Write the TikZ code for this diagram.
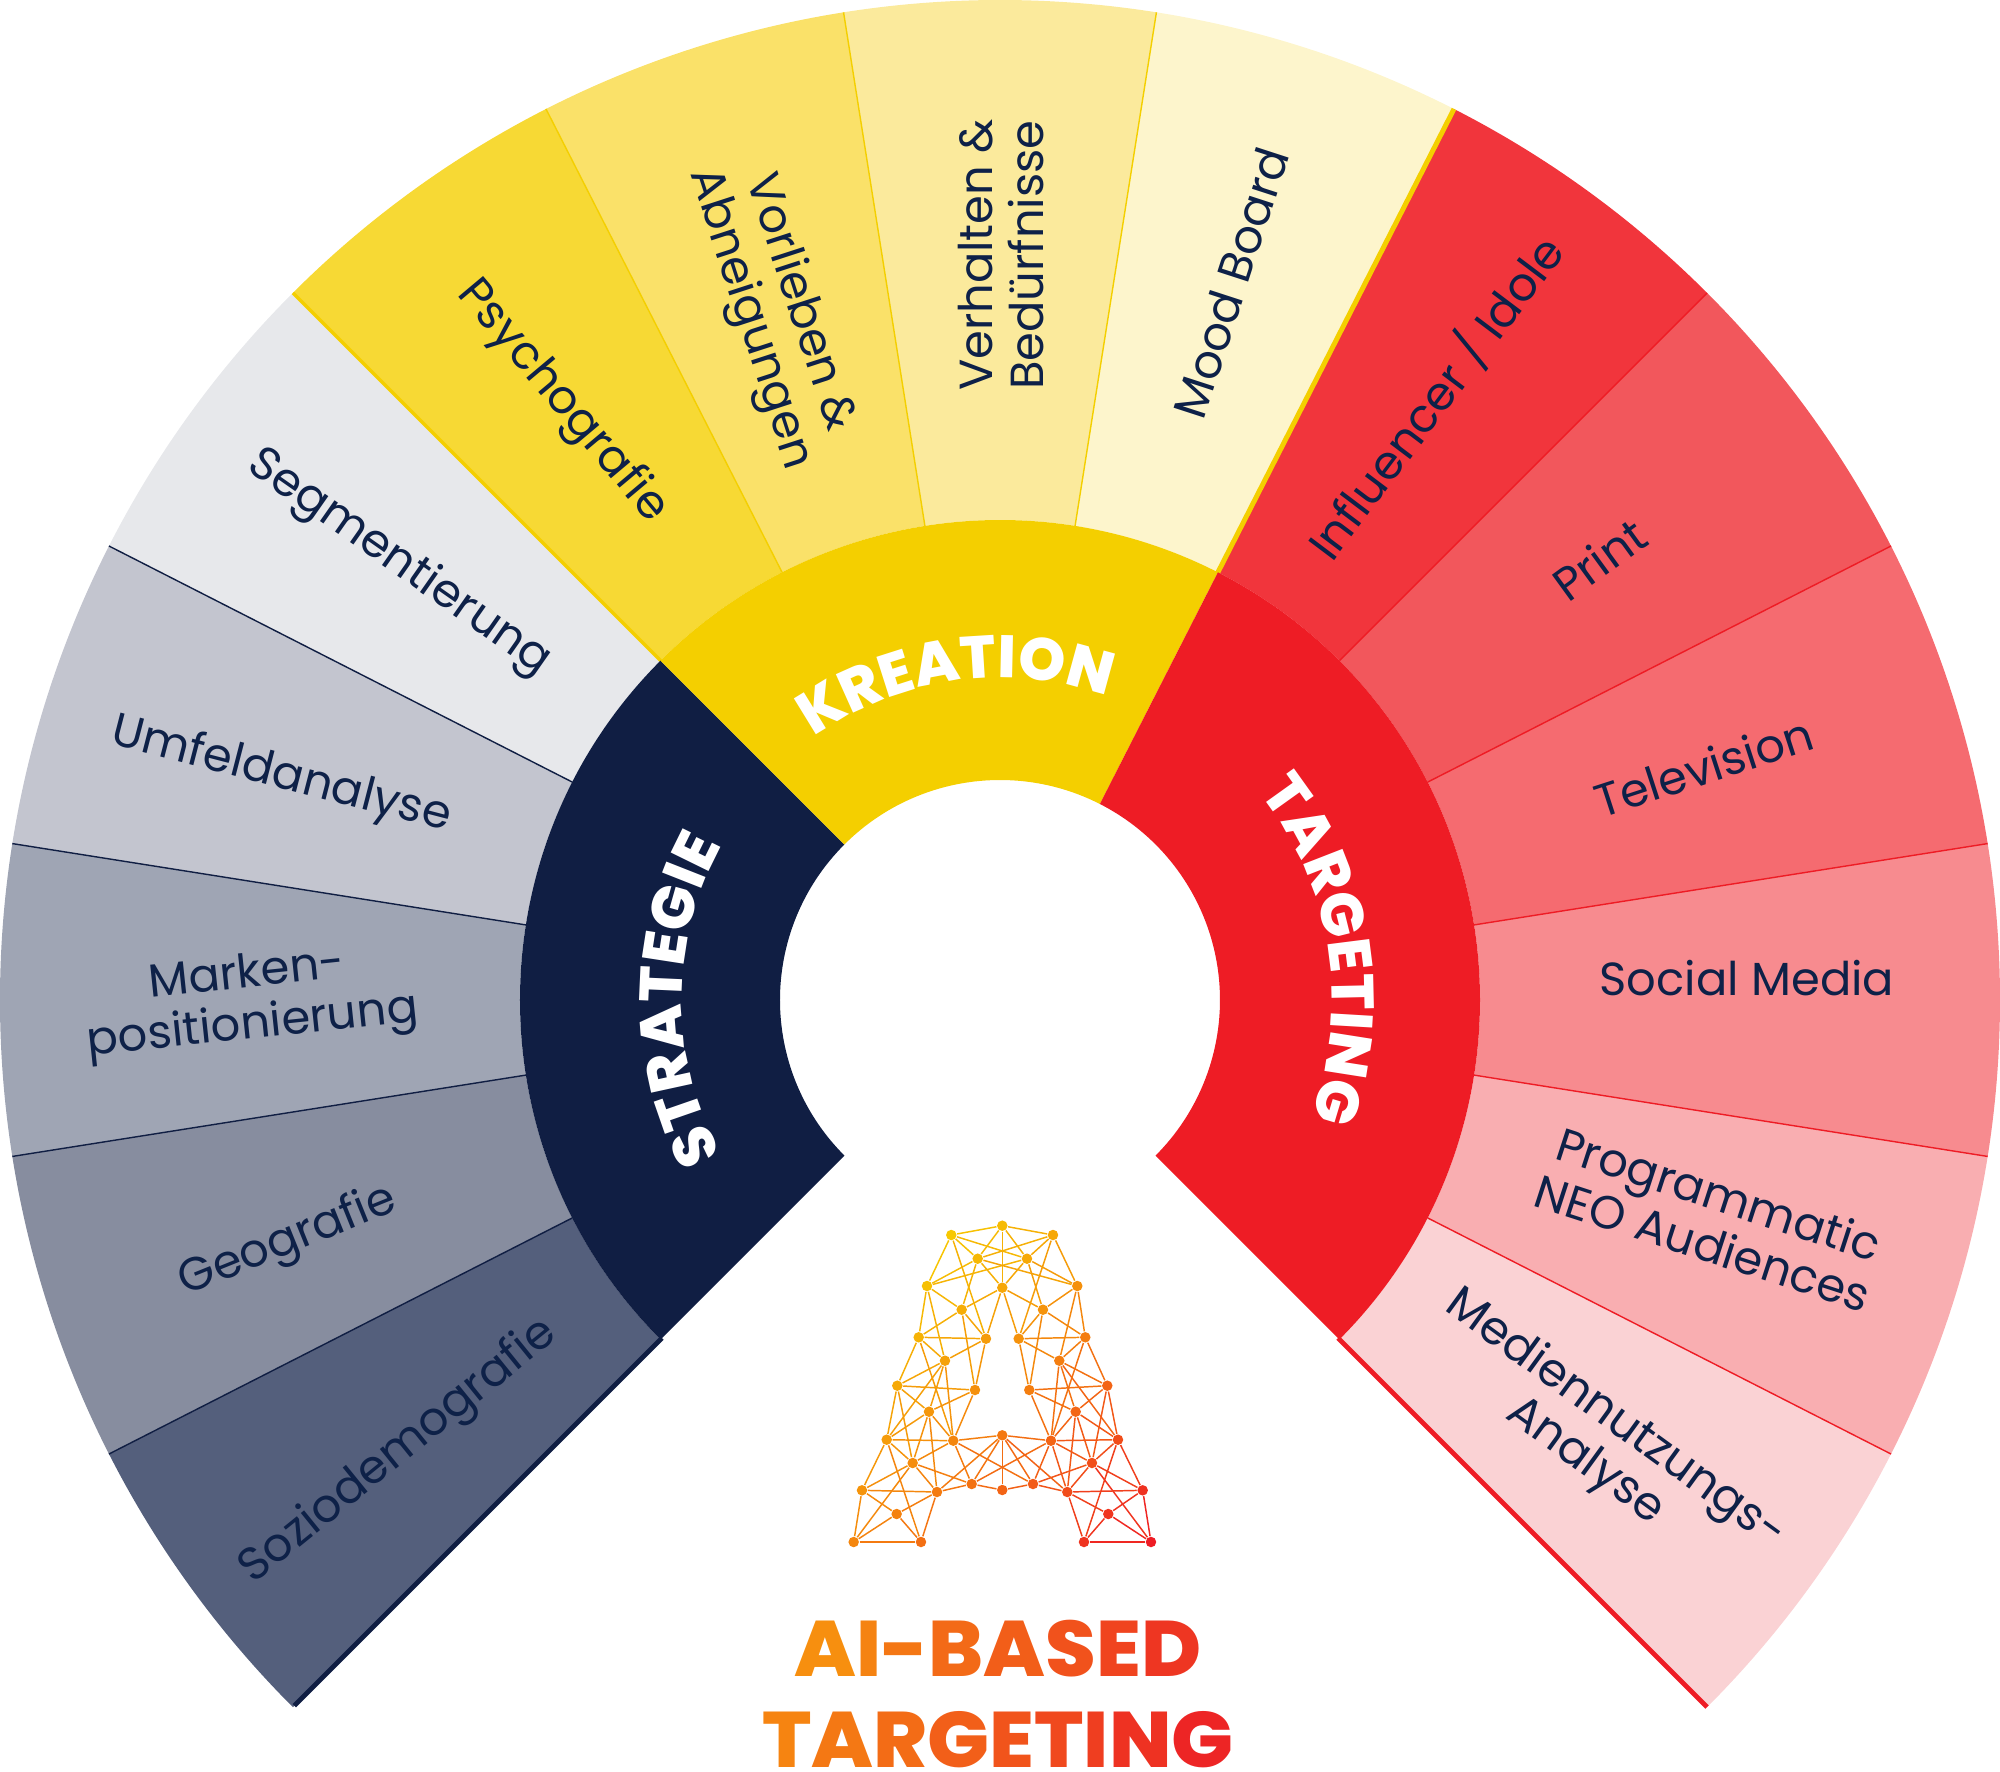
\documentclass[tikz,border=0pt]{standalone}
\usepackage{fontspec}
\usetikzlibrary{decorations.text}
\setmainfont{Poppins}
\newfontfamily\heavyfont{Poppins ExtraBold}
\newfontfamily\headfont{Poppins ExtraBold}[FakeStretch=1.04]

\definecolor{navy}{HTML}{101E43}
\definecolor{inky}{HTML}{0E2148}
\definecolor{gold}{HTML}{F4CF00}
\definecolor{flame}{HTML}{EE1C25}
\definecolor{navyA}{HTML}{545F7C}
\definecolor{navyB}{HTML}{878D9F}
\definecolor{navyC}{HTML}{9FA5B4}
\definecolor{navyD}{HTML}{C3C5CF}
\definecolor{navyE}{HTML}{E7E8EB}
\definecolor{goldA}{HTML}{F7D934}
\definecolor{goldB}{HTML}{FAE169}
\definecolor{goldC}{HTML}{FBEA9C}
\definecolor{goldD}{HTML}{FDF5CC}
\definecolor{flameA}{HTML}{F1353C}
\definecolor{flameB}{HTML}{F2575C}
\definecolor{flameC}{HTML}{F56B70}
\definecolor{flameD}{HTML}{F78B8F}
\definecolor{flameE}{HTML}{F9AEB1}
\definecolor{flameF}{HTML}{FAD2D4}
\definecolor{netyellow}{HTML}{F7CE00}
\definecolor{netorange}{HTML}{F47C10}
\definecolor{netred}{HTML}{EE1C25}
\definecolor{headorange}{HTML}{F7950E}
\definecolor{headred}{HTML}{ED2525}

% one piece of the ring: colour, start angle, end angle, radii
\newcommand{\ringseg}[5]{\fill[#1] (#2:#4) arc (#2:#3:#4) -- (#3:#5) arc (#3:#2:#5) -- cycle;}
% heading letter, shaded between the two heading colours
\newcommand{\hl}[2]{\textcolor{headred!#1!headorange}{#2}}

\begin{document}
\begin{tikzpicture}[%
% common options for the labels in the outer ring:
seglabel/.style = {align=center, text=inky, inner sep=0,
            font=\fontsize{13.2}{14.6}\selectfont},
% common options for the words bent round the inner ring:
arctitle/.style = {decorate, decoration={text along path, text align=center,
            text={|\color{white}\heavyfont\fontsize{17}{17}\selectfont|#1}}},
% common options for the logo:
netdot/.style = {circle, inner sep=0, minimum size=0.105cm},
netedge/.style = {line width=0.42pt},
headline/.style = {anchor=base, inner sep=0,
            font=\headfont\fontsize{22.4}{22.4}\selectfont}]
\useasboundingbox (-10,-7.71) rectangle (10,10);

% outer ring
\foreach \a/\col in {225/navyA,207/navyB,189/navyC,171/navyD,153/navyE,
                     135/goldA,117/goldB,99/goldC,81/goldD,
                     63/flameA,45/flameB,27/flameC,9/flameD,-9/flameE,-27/flameF}{
  \pgfmathsetmacro\b{\a-18}
  \ringseg{\col}{\a}{\b}{4.8}{10}
}
% separators
\foreach \a in {207,189,171,153} \draw[navy, line width=0.4pt] (\a:4.8) -- (\a:10);
\foreach \a in {117,99,81} \draw[gold, line width=0.4pt] (\a:4.8) -- (\a:10);
\foreach \a in {45,27,9,-9,-27} \draw[flame, line width=0.4pt] (\a:4.8) -- (\a:10);
\draw[navy, line width=1.4pt] (225:4.78) -- (225:9.98);
\draw[gold, line width=1pt] (135:4.78) -- (135:10);
\draw[gold, line width=1.4pt] (63:4.78) -- (63:10);
\draw[flame, line width=1.4pt] (-45:4.78) -- (-45:10);

% inner ring
\ringseg{navy}{225}{135}{2.2}{4.8}
\ringseg{gold}{135}{63}{2.2}{4.8}
\ringseg{flame}{63}{-45}{2.2}{4.8}
\path[arctitle=STRATEGIE] (225:3.18) arc (225:135:3.18);
\path[arctitle=KREATION] (134:3.22) arc (134:62:3.22);
\path[arctitle=TARGETING] (63:3.32) arc (63:-45:3.32);

% labels
\node[seglabel, rotate=39] (sozio) at (-6.01,-4.52) {Soziodemografie};
\node[seglabel, rotate=22] (geo) at (-7.12,-2.42) {Geografie};
\node[seglabel, rotate=6] (marken) at (-7.50,-0.02) {Marken-\\positionierung};
\node[seglabel, rotate=-14.5] (umfeld) at (-7.19,2.24) {Umfeldanalyse};
\node[seglabel, rotate=-35] (segment) at (-6.01,4.37) {Segmentierung};
\node[seglabel, rotate=-50] (psycho) at (-4.38,5.98) {Psychografie};
\node[seglabel, rotate=-72] (vorlieben) at (-2.26,6.89) {Vorlieben \&\\Abneigungen};
\node[seglabel, rotate=90] (verhalten) at (0.01,7.45) {Verhalten \&\\Bedürfnisse};
\node[seglabel, rotate=72] (mood) at (2.31,7.17) {Mood Board};
\node[seglabel, rotate=53] (influencer) at (4.35,6.03) {Influencer / Idole};
\node[seglabel, rotate=36] (print) at (5.99,4.41) {Print};
\node[seglabel, rotate=18] (tele) at (7.04,2.33) {Television};
\node[seglabel, rotate=0] (social) at (7.47,0.22) {Social Media};
\node[seglabel, rotate=-18] (prog) at (7.11,-2.18) {Programmatic\\NEO Audiences};
\node[seglabel, rotate=-36] (medien) at (6.00,-4.41) {Mediennutzungs-\\Analyse};

% logo points
\foreach \n/\x/\y in {a1/-.487/-2.35,a2/.023/-2.257,a3/.53/-2.35,
    b1/-.223/-2.587,b2/.27/-2.587,
    c1/-.73/-2.86,c2/.023/-2.877,c3/.773/-2.86,
    d1/-.383/-3.097,d2/.43/-3.097,
    e1/-.813/-3.373,e2/-.14/-3.387,e3/.187/-3.387,e4/.853/-3.373,
    f1/-.55/-3.607,f2/.593/-3.607,
    g1/-1.027/-3.857,g2/-.25/-3.9,g3/.293/-3.9,g4/1.073/-3.857,
    h1/-.71/-4.117,h2/.757/-4.117,
    i1/-1.133/-4.397,i2/-.467/-4.407,i3/.023/-4.353,i4/.51/-4.407,i5/1.18/-4.397,
    j1/-.873/-4.63,j2/.92/-4.63,
    k1/-1.38/-4.903,k2/-.63/-4.92,k3/-.283/-4.84,k4/.023/-4.9,k5/.33/-4.84,
    k6/.673/-4.92,k7/1.427/-4.903,
    l1/-1.033/-5.14,l2/1.083/-5.14,
    m1/-1.463/-5.42,m2/-.79/-5.42,m3/.84/-5.42,m4/1.51/-5.42}{
  \pgfmathsetmacro\t{((\x+1.5)+(-2.25-\y))/6.17}
  \pgfmathsetmacro\pa{max(min((\t-0.15)/0.42,1),0)*100}
  \pgfmathsetmacro\pb{max((\t-0.57)/0.43,0)*100}
  \xglobal\colorlet{col\n}{netred!\pb!netorange!\pa!netyellow}
  \node[netdot, fill=col\n] (\n) at (\x,\y) {};
}
% logo links
\foreach \p/\q in {a1/a2,a2/a3,a1/b1,a1/b2,a3/b1,a3/b2,a2/b1,a2/b2,a2/c2,
    b1/c1,b2/c1,b1/c3,b2/c3,b1/c2,b2/c2,a1/c1,a3/c3,
    c1/d1,c3/d2,c2/d1,c2/d2,c2/e2,c2/e3,b1/d1,b2/d2,a1/e2,a3/e3,
    d1/e1,d1/e2,d2/e3,d2/e4,c1/e1,c3/e4,e1/e2,e3/e4,
    c1/f1,c3/f2,e1/f1,e2/f1,e3/f2,e4/f2,
    d1/g2,e2/g2,d2/g3,e3/g3,e1/g1,e4/g4,
    f1/g1,f1/h1,f1/i1,f1/i2,e1/i2,f2/g4,f2/h2,f2/i5,f2/i4,e4/i4,
    g1/g2,g2/h1,g2/i2,g1/h1,g1/i1,g1/j1,h1/i1,h1/j1,h1/k2,h1/i2,
    g3/g4,g3/h2,g3/i4,g4/h2,g4/i5,g4/j2,h2/i4,h2/i5,h2/j2,h2/k6,
    i1/i2,i1/j1,i1/k1,i1/m2,i2/j1,i2/k3,i2/i3,i2/k5,
    i5/i4,i5/j2,i5/k7,i5/m3,i4/k3,i4/j2,i4/k5,i4/k6,i4/i3,
    j1/k1,j1/m1,j1/k2,j1/k3,j2/k7,j2/m4,j2/k6,j2/k5,
    k1/k2,k1/l1,k1/m1,l1/k2,l1/m1,l1/m2,k2/m2,m1/m2,
    k7/k6,k7/l2,k7/m4,l2/k6,l2/m4,l2/m3,k6/m3,m3/m4,
    k2/k3,k2/i3,k3/i3,k3/k4,k4/k5,k4/i3,k5/i3,k6/i3,k5/k6}{
  \draw[netedge, color=col\p!50!col\q] (\p) -- (\q);
}

% heading
\node[headline] (headtop) at (-0.02,-6.76) {\hl{5}{A}\hl{16}{I}\hl{27}{-}\hl{38}{B}\hl{49}{A}\hl{60}{S}\hl{72}{E}\hl{85}{D}};
\node[headline] (headbottom) at (-0.02,-7.67) {\hl{15}{T}\hl{26}{A}\hl{37}{R}\hl{48}{G}\hl{58}{E}\hl{68}{T}\hl{78}{I}\hl{88}{N}\hl{100}{G}};
\end{tikzpicture}
\end{document}
